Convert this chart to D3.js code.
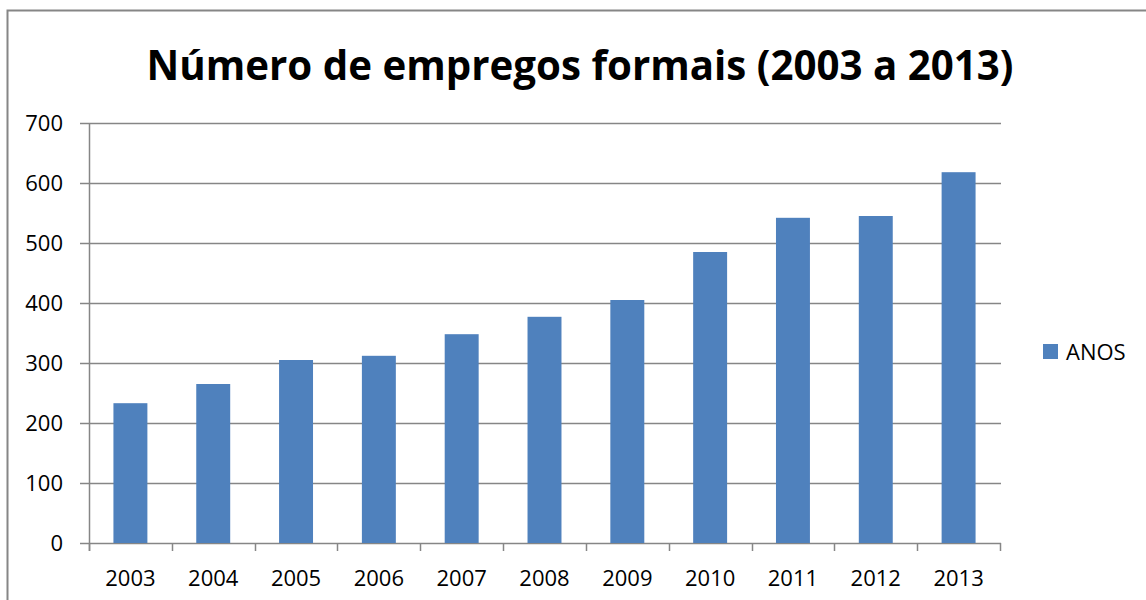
<!DOCTYPE html>
<html>
<head>
<meta charset="utf-8">
<script src="https://cdn.jsdelivr.net/npm/d3@7"></script>
<style>
  body { margin: 0; background: #fff; }
  svg { display: block; }
  text { font-family: "Open Sans", "Noto Sans", sans-serif; fill: #000; }
</style>
</head>
<body>
<div id="graph"></div>
<script>
!(function(){
"use strict"

var titleText = "Número de empregos formais (2003 a 2013)"
var seriesName = "ANOS"
var years = ["2003","2004","2005","2006","2007","2008","2009","2010","2011","2012","2013"]
var values = [233, 265, 305, 312, 348, 377, 405, 485, 542, 545, 618]
var yTicks = [0, 100, 200, 300, 400, 500, 600, 700]

var width = 1146, height = 600
var barColor = "#4f81bd"
var axisColor = "#868686"
var margin = {top:123, left:89, bottom:57, right:146}
var chartWidth = width - margin.left - margin.right
var chartHeight = height - margin.top - margin.bottom

var svg = d3.select("#graph").append("svg")
	.attr("width", width)
	.attr("height", height)

// outer chart border (runs off the right and bottom of the page)
svg.append("rect")
	.attr("x", 7.5).attr("y", 10.5)
	.attr("width", width).attr("height", height)
	.attr("fill", "none")
	.attr("stroke", axisColor)
	.attr("stroke-width", 2)

var title = svg.append("text")
	.attr("x", 580)
	.attr("y", 80)
	.attr("text-anchor", "middle")
	.style("font-weight", "bold")
	.style("font-size", "40px")
	.text(titleText)
var tl = title.node().getComputedTextLength()
title.style("font-size", (40 * 867 / tl) + "px")

var x = d3.scaleBand()
	.domain(years)
	.range([0, chartWidth])
	.paddingInner(0.59)
	.paddingOuter(0.295)

var y = d3.scaleLinear()
	.domain([0, 700])
	.range([chartHeight, 0])

var chartLayer = svg.append("g")
	.attr("transform", "translate(" + [margin.left, margin.top] + ")")

// gridlines
chartLayer.append("g")
	.selectAll("line")
	.data(yTicks)
	.enter().append("line")
	.attr("x1", -9)
	.attr("x2", chartWidth + 1)
	.attr("y1", function(d){ return Math.round(y(d)) + 0.5 })
	.attr("y2", function(d){ return Math.round(y(d)) + 0.5 })
	.attr("stroke", axisColor)
	.attr("stroke-width", 1.5)

// y labels
chartLayer.append("g")
	.selectAll("text")
	.data(yTicks)
	.enter().append("text")
	.attr("x", -26)
	.attr("y", function(d){ return y(d) })
	.attr("dy", "0.35em")
	.attr("text-anchor", "end")
	.style("font-size", "22px")
	.text(function(d){ return d })

// bars
chartLayer.append("g")
	.selectAll("rect")
	.data(values)
	.enter().append("rect")
	.attr("x", function(d, i){ return x(years[i]) })
	.attr("width", x.bandwidth())
	.attr("y", function(d){ return y(d) })
	.attr("height", function(d){ return chartHeight - y(d) })
	.attr("fill", barColor)

// y axis line
chartLayer.append("line")
	.attr("x1", 0.5).attr("x2", 0.5)
	.attr("y1", 0).attr("y2", chartHeight + 8)
	.attr("stroke", axisColor)
	.attr("stroke-width", 1.5)

// x axis ticks at band boundaries
var step = x.step()
chartLayer.append("g")
	.selectAll("line")
	.data(d3.range(years.length + 1))
	.enter().append("line")
	.attr("x1", function(i){ return Math.round(i * step) + 0.5 })
	.attr("x2", function(i){ return Math.round(i * step) + 0.5 })
	.attr("y1", chartHeight)
	.attr("y2", chartHeight + 8)
	.attr("stroke", axisColor)
	.attr("stroke-width", 1.5)

// x labels
chartLayer.append("g")
	.selectAll("text")
	.data(years)
	.enter().append("text")
	.attr("x", function(d){ return x(d) + x.bandwidth() / 2 })
	.attr("y", chartHeight + 43)
	.attr("text-anchor", "middle")
	.style("font-size", "22px")
	.text(function(d){ return d })

// legend
var legend = svg.append("g")
	.attr("transform", "translate(1043,344)")
legend.append("rect")
	.attr("width", 15).attr("height", 15)
	.attr("fill", barColor)
legend.append("text")
	.attr("x", 23)
	.attr("y", 15.5)
	.style("font-size", "22px")
	.text(seriesName)
}());
</script>
</body>
</html>
